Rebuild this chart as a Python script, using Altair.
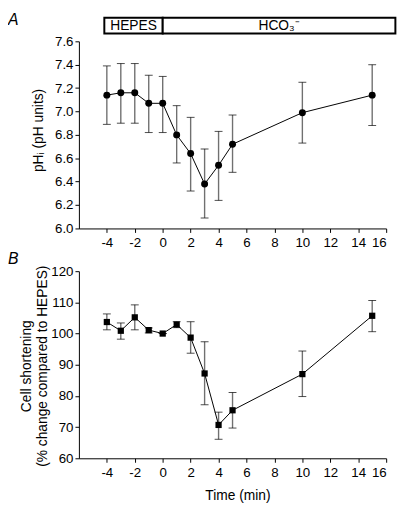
import altair as alt
import pandas as pd

# ---- data ----
time = [-4, -3, -2, -1, 0, 1, 2, 3, 4, 5, 10, 15]

ph_mean = [7.14, 7.16, 7.16, 7.07, 7.07, 6.80, 6.64, 6.38, 6.54, 6.72, 6.99, 7.14]
ph_upper = [7.39, 7.41, 7.41, 7.31, 7.30, 7.05, 6.95, 6.68, 6.83, 6.97, 7.25, 7.40]
ph_lower = [6.89, 6.90, 6.90, 6.82, 6.82, 6.56, 6.32, 6.09, 6.24, 6.48, 6.73, 6.88]

short_mean = [103.7, 100.9, 105.2, 101.1, 100.0, 102.9, 98.7, 87.2, 70.7, 75.4, 87.0, 105.7]
short_upper = [106.3, 103.4, 109.2, 101.8, 100.0, 103.8, 103.8, 97.4, 74.8, 81.1, 94.4, 110.6]
short_lower = [101.2, 98.2, 101.2, 100.2, 100.0, 101.9, 93.7, 77.2, 66.1, 69.7, 79.8, 100.6]

x_ticks = [-4, -2, 0, 2, 4, 6, 8, 10, 12, 14, 16]
ph_ticks = [6.0, 6.2, 6.4, 6.6, 6.8, 7.0, 7.2, 7.4, 7.6]
short_ticks = [60, 70, 80, 90, 100, 110, 120]

phase_names = ["HEPES", "HCO₃⁻"]
phase_start = [-4.18, 0.0]
phase_end = [0.0, 16.66]

panel_letters = ["A", "B"]

FONT = "Liberation Sans"
W, H = 312, 190

ph_df = pd.DataFrame({"time": time, "mean": ph_mean, "upper": ph_upper, "lower": ph_lower})
sh_df = pd.DataFrame({"time": time, "mean": short_mean, "upper": short_upper, "lower": short_lower})
phase_df = pd.DataFrame({"phase": phase_names, "start": phase_start, "end": phase_end})
phase_df["mid"] = (phase_df["start"] + phase_df["end"]) / 2

xscale = alt.Scale(domain=[-6, 16], nice=False, zero=False)


def xaxis(title=None, **kw):
    return alt.Axis(values=x_ticks, labelExpr="replace(datum.label, '\u2212', '-')",
                    title=title, titleFontWeight="normal", **kw)


def panel(df, ydomain, yticks, yfmt, ytitle, ytitle_x, ytitle_y, shape, size, xtitle=None):
    yscale = alt.Scale(domain=ydomain, nice=False, zero=False)
    yax = alt.Axis(values=yticks, format=yfmt, title=ytitle, titleX=ytitle_x, titleY=ytitle_y,
                   titleAngle=270, titleBaseline="middle", titleAlign="center",
                   titleLineHeight=16.6, titleFontWeight="normal")
    if xtitle:
        xax = xaxis(xtitle, titleX=161, titleY=38, titleBaseline="middle")
    else:
        xax = xaxis(None)
    base = alt.Chart(df)
    X = alt.X("time:Q", scale=xscale, axis=xax)
    stems = base.mark_rule(color="#707070", strokeWidth=1.4).encode(
        x=X, y=alt.Y("lower:Q", scale=yscale, axis=yax), y2="upper:Q")
    cap_hi = base.mark_tick(color="black", orient="horizontal", size=8, thickness=1).encode(
        x=X, y=alt.Y("upper:Q", scale=yscale, axis=yax))
    cap_lo = base.mark_tick(color="black", orient="horizontal", size=8, thickness=1).encode(
        x=X, y=alt.Y("lower:Q", scale=yscale, axis=yax))
    line = base.mark_line(color="black", strokeWidth=1).encode(
        x=X, y=alt.Y("mean:Q", scale=yscale, axis=yax))
    pts = base.mark_point(shape=shape, filled=True, color="black", size=size, opacity=1).encode(
        x=X, y=alt.Y("mean:Q", scale=yscale, axis=yax))
    return [stems, cap_hi, cap_lo, line, pts], X


top_layers, Xt = panel(ph_df, [6.0, 7.6], ph_ticks, ".1f", "pHᵢ (pH units)", -41, 90, "circle", 50)
bot_layers, Xb = panel(sh_df, [60, 120], short_ticks, "d",
                       ["Cell shortening", "(% change compared to HEPES)"], -53.5, 96,
                       "square", 40, xtitle="Time (min)")

header = alt.Chart(phase_df).mark_rect(fill="white", stroke="black", strokeWidth=2).encode(
    x=alt.X("start:Q", scale=xscale, axis=xaxis(None)), x2="end:Q",
    y=alt.value(-24), y2=alt.value(-8))
header_text = alt.Chart(phase_df).mark_text(fontSize=14, font=FONT, color="black",
                                            baseline="middle", align="center").encode(
    x=alt.X("mid:Q", scale=xscale, axis=xaxis(None)), y=alt.value(-15.5), text="phase:N")

letter_a = alt.Chart(pd.DataFrame({"letter": panel_letters[:1]})).mark_text(
    fontSize=16, font=FONT, fontStyle="italic", align="left", baseline="top", color="black"
).encode(x=alt.value(-72), y=alt.value(-29.3), text="letter:N")
letter_b = alt.Chart(pd.DataFrame({"letter": panel_letters[1:]})).mark_text(
    fontSize=16, font=FONT, fontStyle="italic", align="left", baseline="top", color="black"
).encode(x=alt.value(-72), y=alt.value(-20), text="letter:N")

top = alt.layer(header, header_text, letter_a, *top_layers).properties(width=W, height=H)
bottom = alt.layer(letter_b, *bot_layers).properties(width=W, height=H)

chart = alt.vconcat(top, bottom, spacing=43.4, bounds="flush").properties(
    padding=0
).configure_view(stroke=None).configure_axis(
    grid=False, domainColor="black", tickColor="black", labelColor="black", titleColor="black",
    labelFont=FONT, titleFont=FONT, labelFontSize=13.5, titleFontSize=14,
    titleFontWeight="normal", tickSize=4, domainWidth=1, tickWidth=1, labelPadding=2
).configure_axisX(labelPadding=3)

chart.save("out.html", embed_options={"renderer": "svg", "actions": False})
